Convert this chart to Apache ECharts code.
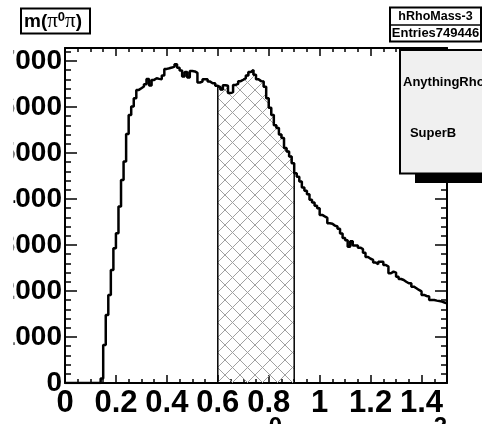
<!DOCTYPE html>
<html>
<head>
<meta charset="utf-8">
<script src="https://cdn.jsdelivr.net/npm/echarts@6/dist/echarts.min.js"></script>
<style>
html,body{margin:0;padding:0;background:#fff;}
#c{width:482px;height:424px;}
</style>
</head>
<body>
<div id="c"></div>
<script>
// ---- data ----
const xMin = 0;
const xMax = 1.5;
const yMax = 7280;
const xTickLabels = ['0','0.2','0.4','0.6','0.8','1','1.2','1.4'];
const yTickLabels = ['0','1000','2000','3000','4000','5000','6000','7000'];
const hatchFrom = 0.6;
const hatchTo = 0.9;
// bin contents, 150 bins of width 0.01 from 0 to 1.5
const binValues = [
  0,0,0,0,0,0,0,0,0,0,
  0,0,0,0,100,826,1478,1913,2457,2928,
  3254,3833,4413,4812,5413,5826,6007,6189,6370,6406,
  6442,6493,6609,6464,6587,6623,6609,6600,6681,6826,
  6840,6855,6877,6928,6850,6790,6660,6760,6640,6780,
  6770,6740,6530,6550,6600,6600,6550,6515,6515,6457,
  6430,6380,6470,6460,6300,6320,6478,6500,6560,6590,
  6623,6680,6760,6800,6700,6600,6560,6550,6440,6190,
  5980,5826,5600,5543,5400,5326,5109,5029,4920,4775,
  4558,4480,4380,4250,4180,4100,3980,3925,3850,3800,
  3652,3620,3590,3472,3460,3420,3400,3350,3250,3150,
  3100,2960,3080,2990,2990,2940,2910,2830,2740,2700,
  2674,2620,2580,2637,2637,2565,2530,2384,2420,2400,
  2311,2260,2239,2200,2167,2167,2094,2060,2022,1990,
  1913,1890,1880,1804,1804,1790,1780,1768,1750,1730
];
const histName = 'hRhoMass-3';
const entries = '749446';
const legendTexts = ['AnythingRho', 'SuperB'];

// ---- build step outlines from bins ----
const nBins = binValues.length;
const bw = (xMax - xMin) / nBins;
const edge = i => +(xMin + i * bw).toFixed(6);
const histPts = [];
for (let i = 0; i < nBins; i++) {
  histPts.push([edge(i), binValues[i]]);
  histPts.push([edge(i + 1), binValues[i]]);
}
const iFrom = Math.round((hatchFrom - xMin) / bw);
const iTo = Math.round((hatchTo - xMin) / bw);
const hatchPts = [[edge(iFrom), 0]];
for (let i = iFrom; i < iTo; i++) {
  hatchPts.push([edge(i), binValues[i]]);
  hatchPts.push([edge(i + 1), binValues[i]]);
}
hatchPts.push([edge(iTo), 0]);

// hatch pattern
const pc = document.createElement('canvas');
const ps = 15;
pc.width = ps; pc.height = ps;
const g = pc.getContext('2d');
g.strokeStyle = '#a0a0a0';
g.lineWidth = 1;
g.beginPath();
g.moveTo(0, 0); g.lineTo(ps, ps);
g.moveTo(ps, 0); g.lineTo(0, ps);
g.stroke();

const chart = echarts.init(document.getElementById('c'), null, {renderer: 'canvas'});
const black = '#000';
const FONT = 'Liberation Sans';

function xAx(pos, major, labels) {
  return {
    type: 'value', min: xMin, max: xMax, interval: major ? 0.2 : 0.05, position: pos,
    axisLine: {show: major, onZero: false, lineStyle: {color: black, width: 2}},
    axisTick: {show: true, inside: true, length: major ? 8 : 4, lineStyle: {color: black, width: 1.5}},
    splitLine: {show: false},
    axisLabel: labels ? {
      show: true, margin: 5, color: black, fontFamily: FONT, fontWeight: 'bold', fontSize: 31,
      showMaxLabel: false,
      formatter: v => { const k = Math.round(v / 0.2); return Math.abs(v - k * 0.2) < 1e-6 ? xTickLabels[k] : ''; }
    } : {show: false}
  };
}
function yAx(pos, major, labels) {
  return {
    type: 'value', min: 0, max: yMax, interval: major ? 1000 : 200, position: pos,
    axisLine: {show: major, onZero: false, lineStyle: {color: black, width: 2}},
    axisTick: {show: true, inside: true, length: major ? 12 : 6, lineStyle: {color: black, width: 1.5}},
    splitLine: {show: false},
    axisLabel: labels ? {
      show: true, margin: 3, color: black, fontFamily: FONT, fontWeight: 'bold', fontSize: 28,
      showMaxLabel: false,
      formatter: v => { const k = Math.round(v / 1000); return Math.abs(v - k * 1000) < 1e-6 ? yTickLabels[k] : ''; }
    } : {show: false}
  };
}

chart.setOption({
  animation: false,
  backgroundColor: '#fff',
  grid: {left: 65, right: 35, top: 48, bottom: 41, containLabel: false, outerBoundsMode: 'none'},
  xAxis: [xAx('bottom', true, true), xAx('bottom', false, false), xAx('top', true, false), xAx('top', false, false)],
  yAxis: [yAx('left', true, true), yAx('left', false, false), yAx('right', true, false), yAx('right', false, false)],
  series: [
    {
      type: 'line', xAxisIndex: 0, yAxisIndex: 0, data: hatchPts, symbol: 'none',
      lineStyle: {color: black, width: 1.5},
      areaStyle: {color: {image: pc, repeat: 'repeat'}, opacity: 1, origin: 'start'},
      z: 2
    },
    {
      type: 'line', xAxisIndex: 0, yAxisIndex: 0, data: histPts, symbol: 'none',
      lineStyle: {color: black, width: 2.5}, z: 3
    }
  ],
  graphic: [
    // left clip of the pad (leading digits of the y labels are cut off)
    {type: 'rect', z: 99, shape: {x: 0, y: 40, width: 13.5, height: 360}, style: {fill: '#fff'}},
    // title box
    {type: 'rect', z: 100, shape: {x: 21, y: 8.5, width: 69, height: 25}, style: {fill: '#fff', stroke: black, lineWidth: 2}},
    {type: 'text', z: 101, x: 24, y: 21.5, style: {
      text: '{a|m(}{p|π}{s|0}{p|π}{a|)}', verticalAlign: 'middle', align: 'left',
      rich: {
        a: {fontFamily: FONT, fontWeight: 'bold', fontSize: 19, fill: black},
        p: {fontFamily: 'Liberation Serif', fontSize: 21, fill: black},
        s: {fontFamily: FONT, fontWeight: 'bold', fontSize: 13, fill: black, verticalAlign: 'top'}
      }}},
    // stats box
    {type: 'rect', z: 100, shape: {x: 390, y: 7.5, width: 91, height: 34}, style: {fill: '#fff', stroke: black, lineWidth: 2}},
    {type: 'line', z: 101, shape: {x1: 390, y1: 25, x2: 481, y2: 25}, style: {stroke: black, lineWidth: 1.5}},
    {type: 'text', z: 101, x: 435.5, y: 16.5, style: {text: histName, align: 'center', verticalAlign: 'middle', fontFamily: FONT, fontWeight: 'bold', fontSize: 12.5, fill: black}},
    {type: 'text', z: 101, x: 435.5, y: 33.5, style: {text: 'Entries' + entries, align: 'center', verticalAlign: 'middle', fontFamily: FONT, fontWeight: 'bold', fontSize: 13, fill: black}},
    // legend box
    {type: 'rect', z: 100, shape: {x: 415, y: 172, width: 80, height: 11}, style: {fill: black}},
    {type: 'rect', z: 101, shape: {x: 400, y: 50, width: 90, height: 123.5}, style: {fill: '#f0f0f0', stroke: black, lineWidth: 2}},
    {type: 'text', z: 102, x: 403, y: 82, style: {text: legendTexts[0], align: 'left', verticalAlign: 'middle', fontFamily: FONT, fontWeight: 'bold', fontSize: 13, fill: black}},
    {type: 'text', z: 102, x: 433, y: 133, style: {text: legendTexts[1], align: 'center', verticalAlign: 'middle', fontFamily: FONT, fontWeight: 'bold', fontSize: 13, fill: black}},
    // x-axis title (mostly below the canvas; only superscripts peek in)
    {type: 'text', z: 101, x: 447, y: 415, style: {
      text: '{a|m(π}{s|0}{a|π) GeV/c}{s|2}', align: 'right', verticalAlign: 'top',
      rich: {
        a: {fontFamily: FONT, fontWeight: 'bold', fontSize: 36, fill: black, verticalAlign: 'bottom'},
        s: {fontFamily: FONT, fontWeight: 'bold', fontSize: 24, fill: black, verticalAlign: 'top', padding: [0, 0, 24, 0]}
      }}}
  ]
});
</script>
</body>
</html>
